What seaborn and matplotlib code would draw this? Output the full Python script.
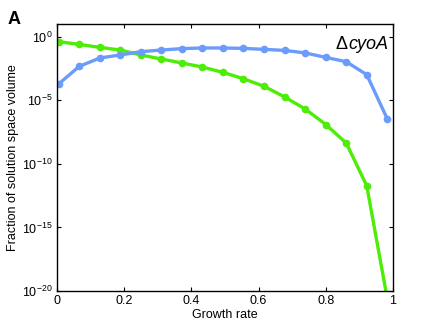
import numpy as np
import pandas as pd
import matplotlib
matplotlib.use("Agg")
import matplotlib.pyplot as plt
import seaborn as sns

# growth rate samples (fraction of max)
growth = [0.005, 0.066, 0.127, 0.188, 0.25, 0.311, 0.372, 0.433, 0.494,
          0.555, 0.617, 0.678, 0.739, 0.80, 0.861, 0.922, 0.983]

# log10 of solution space volume fraction
blue_log = [-3.72, -2.34, -1.68, -1.44, -1.18, -1.05, -0.94, -0.89, -0.89,
            -0.92, -1.0, -1.08, -1.28, -1.63, -1.97, -2.99, -6.46]
green_log = [-0.39, -0.61, -0.84, -1.05, -1.44, -1.76, -2.07, -2.39, -2.81,
             -3.31, -3.91, -4.75, -5.69, -6.91, -8.37, -11.73, -20.6]

yticks = [1e-20, 1e-15, 1e-10, 1e-5, 1e0]
ytick_labels = [r"$10^{-20}$", r"$10^{-15}$", r"$10^{-10}$", r"$10^{-5}$", r"$10^{0}$"]
xticks = [0, 0.2, 0.4, 0.6, 0.8, 1]
xtick_labels = ["0", "0.2", "0.4", "0.6", "0.8", "1"]

df = pd.DataFrame({
    "growth": growth * 2,
    "volume": [10 ** v for v in blue_log] + [10 ** v for v in green_log],
    "series": ["blue"] * len(growth) + ["green"] * len(growth),
})

sns.set_style("ticks")
plt.rcParams["font.family"] = ["Liberation Sans", "DejaVu Sans"]
plt.rcParams["mathtext.fontset"] = "custom"
plt.rcParams["mathtext.rm"] = "Liberation Sans"
plt.rcParams["mathtext.it"] = "Liberation Sans:italic"
for key in ["text.color", "axes.labelcolor", "xtick.color", "ytick.color", "axes.edgecolor"]:
    plt.rcParams[key] = "black"

fig = plt.figure(figsize=(4.36, 3.28), dpi=100)
ax = fig.add_axes([0.1307, 0.1128, 0.7706, 0.8142])

sns.lineplot(data=df, x="growth", y="volume", hue="series",
             palette={"blue": "#6b9bfb", "green": "#4ded07"},
             hue_order=["green", "blue"],
             marker="o", markersize=5.5, markeredgewidth=0, linewidth=2.4,
             legend=False, ax=ax)

ax.set_yscale("log")
ax.set_xlim(0, 1)
ax.set_ylim(1e-20, 1e1)
ax.set_yticks(yticks)
ax.set_yticklabels(ytick_labels)
ax.minorticks_off()
ax.set_xticks(xticks)
ax.set_xticklabels(xtick_labels)
ax.tick_params(direction="in", top=True, right=True, labelsize=9,
               length=3, width=0.8, pad=3)
for s in ax.spines.values():
    s.set_linewidth(1.0)
    s.set_visible(True)

ax.set_xlabel("Growth rate", fontsize=9, labelpad=1)
ax.set_ylabel("Fraction of solution space volume", fontsize=9, labelpad=2)

# strain label: upright delta + italic gene name
gene = ax.text(0.985, 0.955, "cyoA", transform=ax.transAxes,
               ha="right", va="top", fontsize=13, style="italic")
ax.annotate("\u0394", xy=(0, 1), xycoords=gene, ha="right", va="top",
            fontsize=13)
fig.text(0.018, 0.965, "A", fontsize=13, fontweight="bold", va="top")

fig.savefig("out.png", dpi=100)
